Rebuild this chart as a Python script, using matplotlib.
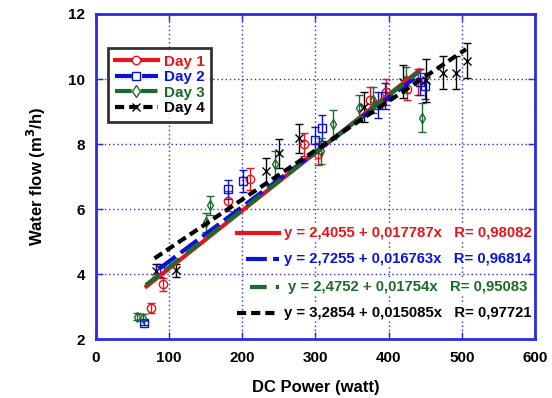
import matplotlib
matplotlib.use('Agg')
import matplotlib.pyplot as plt
import numpy as np

plt.rcParams['font.family'] = ['Liberation Sans', 'DejaVu Sans']
plt.rcParams['font.weight'] = 'bold'

# measured points per day (power in watt, flow in m3/h, error bar half-height)
day1_x = [75, 91, 181, 211, 284, 304, 375, 397, 425, 440]
day1_y = [2.96, 3.70, 6.26, 6.93, 8.00, 7.70, 9.35, 9.61, 9.70, 9.90]
day1_err = [0.15, 0.2, 0.3, 0.35, 0.35, 0.35, 0.4, 0.4, 0.35, 0.4]

day2_x = [66, 87, 181, 201, 299, 309, 386, 395, 443, 450]
day2_y = [2.52, 4.13, 6.61, 6.87, 8.13, 8.49, 9.20, 9.49, 9.92, 9.79]
day2_err = [0.08, 0.2, 0.3, 0.35, 0.4, 0.4, 0.4, 0.4, 0.4, 0.4]

day3_x = [56, 64, 151, 156, 244, 307, 324, 359, 378, 424, 445]
day3_y = [2.70, 2.67, 5.60, 6.12, 7.39, 7.80, 8.61, 9.12, 9.36, 9.97, 8.81]
day3_err = [0.1, 0.1, 0.3, 0.3, 0.4, 0.4, 0.44, 0.4, 0.4, 0.4, 0.45]

day4_x = [82, 109, 233, 250, 277, 366, 419, 451, 474, 492, 507]
day4_y = [4.11, 4.13, 7.19, 7.72, 8.18, 9.14, 9.92, 9.96, 10.20, 10.20, 10.56]
day4_err = [0.2, 0.2, 0.4, 0.45, 0.45, 0.45, 0.5, 0.65, 0.5, 0.5, 0.54]

# linear fits: intercept, slope, R, fitted power range
fit_a = [2.4055, 2.7255, 2.4752, 3.2854]
fit_b = [0.017787, 0.016763, 0.01754, 0.015085]
fit_r = ['0,98082', '0,96814', '0,95083', '0,97721']
fit_lbl_a = ['2,4055', '2,7255', '2,4752', '3,2854']
fit_lbl_b = ['0,017787', '0,016763', '0,01754', '0,015085']
fit_xmin = [69, 86, 68, 80]
fit_xmax = [442, 438, 442, 506]

labels = ['Day 1', 'Day 2', 'Day 3', 'Day 4']
colors = ['#e8141a', '#0a14d8', '#1c6b2c', '#000000']
markers = ['o', 's', 'd', 'x']
dashes = [(None, None), (5, 1.5), (4, 2.2), (2.2, 1.2)]

xs = [day1_x, day2_x, day3_x, day4_x]
ys = [day1_y, day2_y, day3_y, day4_y]
errs = [day1_err, day2_err, day3_err, day4_err]

fig = plt.figure(figsize=(5.52, 3.98), dpi=100)
ax = fig.add_axes([0.174, 0.147, 0.795, 0.818])

grid_blue = '#2a2ae8'

for i in range(4):
    ax.errorbar(xs[i], ys[i], yerr=errs[i], fmt=markers[i], color=colors[i],
                mfc='none', mec=colors[i], ms=6 if markers[i] != 'd' else 5,
                mew=1.0, elinewidth=1.0, capsize=3, capthick=1.0, zorder=3)

handles = []
for i in range(4):
    xf = np.array([fit_xmin[i], fit_xmax[i]])
    ls = '-' if i == 0 else (0, dashes[i])
    ax.plot(xf, fit_a[i] + fit_b[i] * xf, color=colors[i], lw=3,
            linestyle=ls, zorder=4)
    h, = ax.plot([], [], color=colors[i], lw=3, linestyle=ls,
                 marker=markers[i], mfc='white' if markers[i] != 'x' else colors[i],
                 mec=colors[i], ms=6, label=labels[i])
    handles.append(h)

# fit equations in the lower right
eq_y = [0.327, 0.247, 0.161, 0.081]
eq_x0 = [0.321, 0.342, 0.351, 0.321]
for i in range(4):
    ls = '-' if i == 0 else (0, dashes[i])
    ax.plot([eq_x0[i], 0.417], [eq_y[i], eq_y[i]], transform=ax.transAxes,
            color=colors[i], lw=3, linestyle=ls, zorder=5)
    ax.text(0.428 if i != 2 else 0.437, eq_y[i],
            'y = %s + %sx   R= %s' % (fit_lbl_a[i], fit_lbl_b[i], fit_r[i]),
            transform=ax.transAxes, color=colors[i], fontsize=10.7,
            fontweight='bold', va='center', ha='left', zorder=5,
            bbox=dict(facecolor='white', edgecolor='none', pad=0.5))

leg = ax.legend(handles=handles, loc='upper left', bbox_to_anchor=(0.027, 0.896),
                borderaxespad=0, handlelength=2.8, handletextpad=0.4,
                labelspacing=0.1, fontsize=11, frameon=True, fancybox=False,
                borderpad=0.45)
leg.get_frame().set_edgecolor('black')
leg.get_frame().set_linewidth(2)
for t, c in zip(leg.get_texts(), colors):
    t.set_color(c)
    t.set_fontweight('bold')

ax.set_xlim(0, 600)
ax.set_ylim(2, 12)
ax.set_xticks(range(0, 601, 100))
ax.set_yticks(range(2, 13, 2))
ax.grid(True, color=grid_blue, linestyle=(0, (1, 2)), linewidth=1.0)
ax.tick_params(direction='in', length=5, color=grid_blue, top=True, right=True,
               labelsize=11, width=1.0, pad=8)
for lbl in ax.get_xticklabels() + ax.get_yticklabels():
    lbl.set_fontweight('bold')
for sp in ax.spines.values():
    sp.set_color(grid_blue)
    sp.set_linewidth(2)

ax.set_xlabel('DC Power (watt)', fontsize=12, fontweight='bold', labelpad=11)
ax.set_ylabel('Water flow (m$^\\mathbf{3}$/h)', fontsize=12, fontweight='bold', labelpad=14)

plt.savefig('out.png', dpi=100)
plt.close('all')
